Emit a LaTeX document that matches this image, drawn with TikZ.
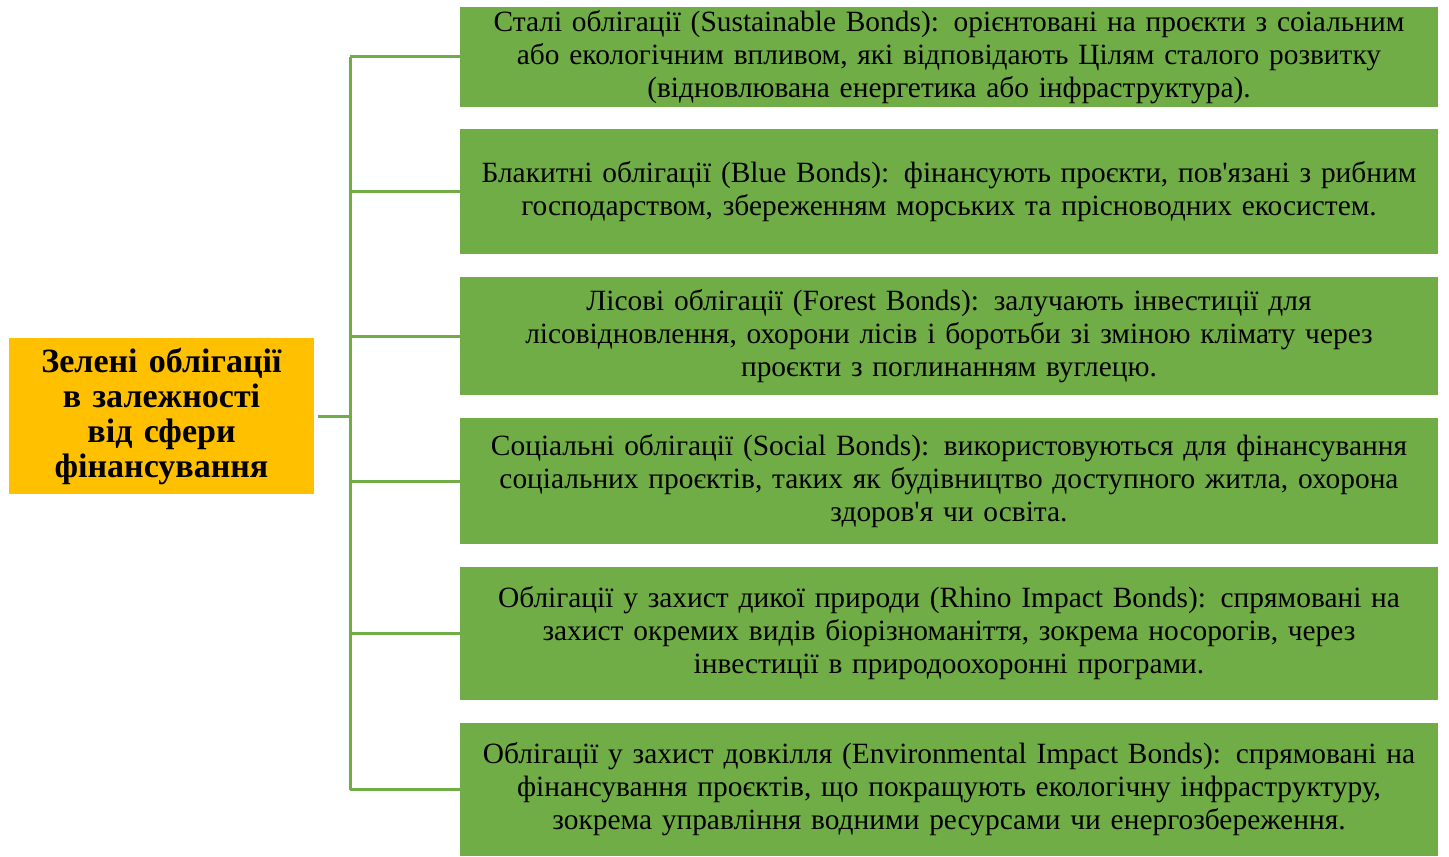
\documentclass[tikz,border=0pt]{standalone}
\usepackage{fontspec}
\newfontfamily\tnr{Liberation Serif}
\definecolor{boxgreen}{HTML}{70AD47}
\definecolor{boxorange}{HTML}{FFC000}
\tikzset{
  greenbox/.style={fill=boxgreen, draw=none, inner sep=0pt, align=center,
    minimum width=489pt, text width=487pt,
    font=\tnr\fontsize{14.7pt}{16.5pt}\selectfont},
  mainbox/.style={fill=boxorange, draw=none, inner sep=0pt, align=center,
    minimum width=152.5pt, minimum height=78pt, text width=151pt,
    font=\tnr\fontsize{17pt}{17.5pt}\selectfont\bfseries},
  link/.style={draw=boxgreen, line width=1.5pt}
}
\begin{document}
\begin{tikzpicture}[x=0.5pt,y=-0.5pt]
\useasboundingbox (0,0) rectangle (1449,856);
\node[mainbox] (L) at (161.5,416) {Зелені облігації\\ в залежності\\ від сфери\\ фінансування};
\node[greenbox, minimum height=50pt] (R1) at (949,57) {Сталі облігації (Sustainable Bonds): орієнтовані на проєкти з соіальним\\ або екологічним впливом, які відповідають Цілям сталого розвитку\\ (відновлювана енергетика або інфраструктура).};
\node[greenbox, minimum height=62.5pt] (R2) at (949,191.5) {Блакитні облігації (Blue Bonds): фінансують проєкти, пов'язані з рибним\\ господарством, збереженням морських та прісноводних екосистем.};
\node[greenbox, minimum height=59pt] (R3) at (949,336) {Лісові облігації (Forest Bonds): залучають інвестиції для\\ лісовідновлення, охорони лісів і боротьби зі зміною клімату через\\ проєкти з поглинанням вуглецю.};
\node[greenbox, minimum height=63pt] (R4) at (949,481) {Соціальні облігації (Social Bonds): використовуються для фінансування\\ соціальних проєктів, таких як будівництво доступного житла, охорона\\ здоров'я чи освіта.};
\node[greenbox, minimum height=66.5pt] (R5) at (949,633.5) {Облігації у захист дикої природи (Rhino Impact Bonds): спрямовані на\\ захист окремих видів біорізноманіття, зокрема носорогів, через\\ інвестиції в природоохоронні програми.};
\node[greenbox, minimum height=66.5pt] (R6) at (949,789.5) {Облігації у захист довкілля (Environmental Impact Bonds): спрямовані на\\ фінансування проєктів, що покращують екологічну інфраструктуру,\\ зокрема управління водними ресурсами чи енергозбереження.};
\coordinate (bus) at (350,416);
\draw[link] ([xshift=2pt]L.east) -- (bus);
\draw[link] (bus |- R1.west) -- (bus |- R6.west);
\foreach \i in {1,...,6} {
  \draw[link] (bus |- R\i.west) -- (R\i.west);
}
\end{tikzpicture}
\end{document}
